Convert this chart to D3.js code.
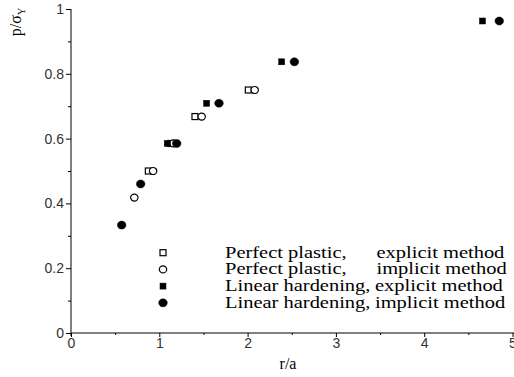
<!DOCTYPE html>
<html>
<head>
<meta charset="utf-8">
<script src="https://cdn.jsdelivr.net/npm/d3@7"></script>
<style>
  body { margin: 0; background: #fff; }
  svg { display: block; }
</style>
</head>
<body>
<svg id="chart" width="514" height="377"></svg>
<script>
// r/a vs p/sigma_Y
const ppExplicit = [
  { r: 0.876, p: 0.500 },
  { r: 1.130, p: 0.585 },
  { r: 1.404, p: 0.668 },
  { r: 2.008, p: 0.750 }
];
const ppImplicit = [
  { r: 0.717, p: 0.418 },
  { r: 0.930, p: 0.500 },
  { r: 1.160, p: 0.585 },
  { r: 1.480, p: 0.668 },
  { r: 2.080, p: 0.750 }
];
const lhExplicit = [
  { r: 1.090, p: 0.585 },
  { r: 1.536, p: 0.709 },
  { r: 2.386, p: 0.837 },
  { r: 4.660, p: 0.963 }
];
const lhImplicit = [
  { r: 0.574, p: 0.333 },
  { r: 0.789, p: 0.460 },
  { r: 1.197, p: 0.585 },
  { r: 1.676, p: 0.709 },
  { r: 2.530, p: 0.837 },
  { r: 4.850, p: 0.963 }
];
const legendNames = ['Perfect plastic,', 'Perfect plastic,', 'Linear hardening,', 'Linear hardening,'];
const legendMethods = ['explicit method', 'implicit method', 'explicit method', 'implicit method'];
const xTicks = [0, 1, 2, 3, 4, 5];
const yTicks = [0, 0.2, 0.4, 0.6, 0.8, 1];

const series = [
  { data: ppExplicit, shape: 'square', filled: false },
  { data: ppImplicit, shape: 'circle', filled: false },
  { data: lhExplicit, shape: 'square', filled: true },
  { data: lhImplicit, shape: 'circle', filled: true }
];

const svg = d3.select('#chart');
const x = d3.scaleLinear().domain([0, 5]).range([71, 512.5]);
const y = d3.scaleLinear().domain([0, 1]).range([333, 9]);

const tickFont = '"Liberation Sans", Arial, sans-serif';
const serif = '"Liberation Serif", "Times New Roman", serif';

// y axis
const yAxis = svg.append('g').attr('transform', `translate(${x(0)},0)`);
yAxis.call(d3.axisLeft(y).tickValues(d3.range(0.1, 1, 0.2)).tickSize(3).tickFormat(''));
yAxis.append('g').call(d3.axisLeft(y).tickValues(yTicks).tickSize(5).tickPadding(2).tickFormat(d3.format('')));
yAxis.selectAll('.domain').remove();
yAxis.append('line').attr('x1', 0).attr('x2', 0).attr('y1', y(1)).attr('y2', y(0) + 3).attr('stroke', '#000');

// x axis
const xAxis = svg.append('g').attr('transform', `translate(0,${y(0)})`);
xAxis.call(d3.axisBottom(x).tickValues(d3.range(0.5, 5, 1)).tickSize(2).tickFormat(''));
xAxis.append('g').call(d3.axisBottom(x).tickValues(xTicks).tickSize(4).tickPadding(1).tickFormat(d3.format('')));
xAxis.selectAll('.domain').remove();
xAxis.append('line').attr('x1', x(0)).attr('x2', 514).attr('y1', 0).attr('y2', 0).attr('stroke', '#000');

svg.selectAll('.tick text')
  .style('font-family', tickFont)
  .style('font-size', '14px')
  .attr('fill', '#333');
svg.selectAll('.tick line').attr('stroke', '#000');

function drawMarker(g, shape, filled) {
  if (shape === 'square') {
    g.append('rect')
      .attr('x', -3).attr('y', -3).attr('width', 6).attr('height', 6)
      .attr('fill', filled ? '#000' : '#fff')
      .attr('stroke', '#000').attr('stroke-width', filled ? 0.5 : 1.2);
  } else {
    g.append('ellipse')
      .attr('rx', filled ? 4.3 : 3.7).attr('ry', filled ? 4 : 3.5)
      .attr('fill', filled ? '#000' : '#fff')
      .attr('stroke', '#000').attr('stroke-width', filled ? 0.5 : 1.2);
  }
}

// points
series.forEach(s => {
  svg.append('g').selectAll('g')
    .data(s.data)
    .enter()
    .append('g')
      .attr('transform', d => `translate(${x(d.r)},${y(d.p)})`)
      .each(function () { drawMarker(d3.select(this), s.shape, s.filled); });
});

// legend
const legend = svg.append('g');
series.forEach((s, i) => {
  const ly = 252.7 + i * 16.7;
  drawMarker(legend.append('g').attr('transform', `translate(163,${ly})`), s.shape, s.filled);
  legend.append('text')
    .attr('transform', `translate(225,${ly + 5}) scale(1.28,1)`)
    .style('font-family', serif).style('font-size', '16px')
    .text(legendNames[i]);
  legend.append('text')
    .attr('transform', `translate(${i < 2 ? 376.5 : 375},${ly + 5}) scale(1.28,1)`)
    .style('font-family', serif).style('font-size', '16px')
    .text(legendMethods[i]);
});

// axis titles
svg.append('text')
  .attr('x', 288).attr('y', 369)
  .attr('text-anchor', 'middle')
  .style('font-family', serif).style('font-size', '16px')
  .text('r/a');

const yt = svg.append('text')
  .attr('transform', 'translate(21,22) rotate(-90)')
  .attr('text-anchor', 'middle')
  .style('font-family', serif).style('font-size', '16px');
yt.append('tspan').text('p/σ');
yt.append('tspan').attr('dy', 4).style('font-size', '10px').text('Y');
</script>
</body>
</html>
